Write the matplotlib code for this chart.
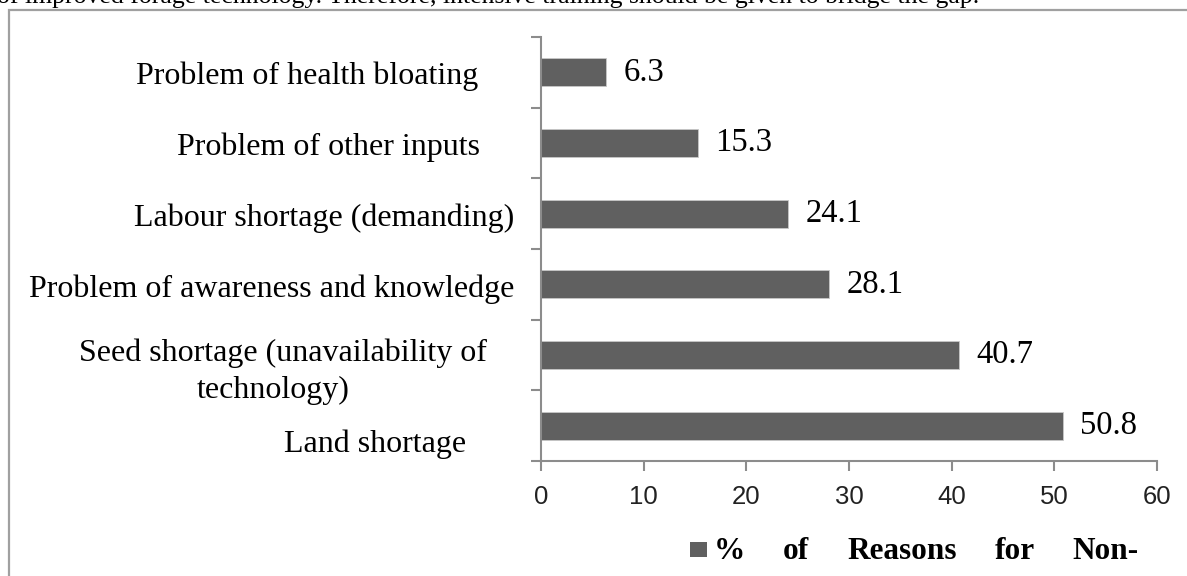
import matplotlib
matplotlib.use("Agg")
import matplotlib.pyplot as plt
import matplotlib.patches as patches
import matplotlib.transforms as mtransforms

# data, top to bottom as shown in the chart
reasons = [
    "Problem of health bloating",
    "Problem of other inputs",
    "Labour shortage (demanding)",
    "Problem of awareness and knowledge",
    "Seed shortage (unavailability of\ntechnology)",
    "Land shortage",
]
percent = [6.3, 15.3, 24.1, 28.1, 40.7, 50.8]
xticks = [0, 10, 20, 30, 40, 50, 60]
legend_words = ["%", "of", "Reasons", "for", "Non-"]
caption = ("of improved forage technology. Therefore, intensive training "
           "should be given to bridge the gap.")

W, H = 1187, 576
serif = "Liberation Serif"
sans = "Liberation Sans"
bar_col = "#606060"
axis_col = "#8c8c8c"

fig = plt.figure(figsize=(W / 100, H / 100), dpi=100)
ax = fig.add_axes([541 / W, 1 - 461 / H, (1157 - 541) / W, (461 - 37) / H])

# bars: first category at top
ypos = [len(reasons) - 1 - i for i in range(len(reasons))]
ax.barh(ypos, percent, height=0.4, color=bar_col, edgecolor="#c8c8c8", linewidth=0.6)

ax.set_xlim(0, 60)
ax.set_ylim(-0.5, len(reasons) - 0.5)
ax.set_xticks(xticks)
ax.set_xticklabels([str(t) for t in xticks], fontsize=18.5, fontfamily=sans, color="#222222")
ax.set_yticks([i - 0.5 for i in range(len(reasons) + 1)])
ax.set_yticklabels([])

for s in ["top", "right"]:
    ax.spines[s].set_visible(False)
for s in ["left", "bottom"]:
    ax.spines[s].set_color(axis_col)
    ax.spines[s].set_linewidth(1.5)
ax.tick_params(axis="both", direction="out", length=7, width=1.5, color=axis_col)
ax.tick_params(axis="x", pad=10)

# value labels
for y, v in zip(ypos, percent):
    ax.text(v + 1.7, y, f"{v:.1f}", fontsize=23.5, fontfamily=serif,
            va="center", ha="left")

# category labels: (x anchor px, alignment, baseline drop below bar centre px)
trans = mtransforms.blended_transform_factory(ax.transAxes, ax.transData)
label_pos = [(478, "right", 12), (480, "right", 12), (514, "right", 12),
             (514, "right", 13), (283, "center", 6), (466, "right", 26)]
for y, lab, (px, ha, drop) in zip(ypos, reasons, label_pos):
    for k, line in enumerate(lab.split("\n")):
        tr = mtransforms.offset_copy(trans, fig=fig, x=-10 * k, y=-(drop + 37 * k),
                                     units="dots")
        ax.text((px - 541) / 616, y, line, transform=tr, fontsize=23,
                fontfamily=serif, ha=ha, va="baseline")

# outer chart frame (extends beyond the crop)
frame = patches.Rectangle((9 / W, -0.1), 1.2, (H - 10) / H + 0.1,
                          transform=fig.transFigure, fill=False,
                          edgecolor="#a0a0a0", linewidth=1.6, clip_on=False)
fig.patches.append(frame)

# caption text cut at the top
fig.text(-3 / W, 1 - 3 / H, caption, fontsize=18.5, fontfamily=serif,
         ha="left", va="baseline")

# legend, justified words
fig.patches.append(patches.Rectangle((690 / W, 1 - 557 / H), 17 / W, 15 / H,
                                     transform=fig.transFigure,
                                     facecolor=bar_col, edgecolor="none"))
word_x = [714, 783, 847, 995, 1072]
for wx, w in zip(word_x, legend_words):
    fig.text(wx / W, 1 - 559 / H, w, fontsize=22.5, fontfamily=serif,
             fontweight="bold", ha="left", va="baseline")

fig.savefig("out.png", dpi=100)
